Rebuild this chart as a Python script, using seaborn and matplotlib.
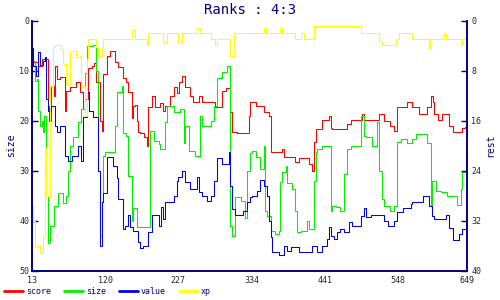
import numpy as np
import pandas as pd
import matplotlib
matplotlib.use("Agg")
import matplotlib.pyplot as plt
import seaborn as sns
from matplotlib.lines import Line2D

# ---- data (step breakpoints) ----
score_x = [13, 22, 27, 36, 38, 41, 45, 46, 49, 54, 61, 63, 68, 78, 83, 88, 90, 95, 100, 104,
           107, 112, 115, 117, 122, 127, 134, 139, 146, 150, 154, 159, 161, 163, 166, 168,
           171, 177, 181, 183, 188, 193, 200, 204, 208, 215, 220, 225, 228, 232, 237, 244,
           249, 257, 262, 281, 291, 296, 303, 306, 313, 330, 332, 340, 352, 359, 362, 379,
           381, 398, 403, 418, 423, 425, 428, 437, 447, 450, 452, 474, 479, 496, 498, 520,
           528, 537, 542, 547, 562, 569, 579, 591, 596, 599, 601, 606, 613, 623, 628, 642,
           646, 649]
score_y = [8.3, 9, 7.7, 17, 20, 13, 15, 9, 11.7, 11.3, 18, 14, 13.3, 12.3, 14.3, 17.7, 15.7,
           9.5, 9, 8.5, 12.3, 20, 22, 10.7, 7, 6, 8.3, 9.3, 11.5, 12.3, 14.3, 19.5, 17, 16.8,
           20, 22.3, 22.5, 23.3, 25, 17.3, 15, 17.3, 16.5, 18, 17, 15, 13.3, 14.5, 12.3, 11,
           13.3, 15, 16.3, 15, 16.2, 17.3, 14, 13.5, 18.3, 22.3, 22.5, 19, 16.3, 17, 18.3, 19,
           26.2, 25.7, 27.3, 28.3, 27.5, 28.7, 30, 24.3, 21.7, 19.8, 19, 21.5, 21.7, 20.7,
           19.8, 18.7, 19.8, 18.7, 20, 21, 22, 17.3, 16.2, 17.3, 18.7, 17.3, 15, 16.3, 18.7,
           19.8, 18.7, 21, 22.3, 21.5, 21.3, 21.3]

size_x = [13, 15, 17, 20, 22, 24, 27, 29, 31, 34, 36, 40, 45, 51, 58, 63, 66, 68, 73, 80, 85,
          90, 93, 102, 107, 109, 112, 115, 117, 119, 134, 137, 144, 146, 151, 154, 159, 161,
          166, 185, 191, 198, 200, 208, 210, 220, 230, 235, 237, 242, 252, 259, 262, 274, 279,
          283, 291, 298, 303, 305, 310, 318, 325, 328, 332, 335, 340, 347, 352, 354, 357, 362,
          369, 374, 376, 379, 384, 386, 393, 398, 401, 406, 415, 418, 425, 428, 430, 437, 450,
          452, 457, 464, 469, 474, 479, 494, 498, 501, 510, 518, 520, 525, 528, 537, 542, 547,
          552, 562, 569, 574, 591, 596, 598, 603, 611, 620, 635, 640, 642, 647, 649]
size_y = [5.5, 8, 12, 11.7, 18, 21, 20, 22.3, 19, 35, 44.5, 41, 37, 34.5, 36.5, 35, 30, 25,
          23.3, 20.3, 17.7, 10.5, 5, 4.9, 10, 30, 43, 36.3, 27, 26.3, 21, 14.3, 13, 22.5, 23,
          31, 40, 37.5, 41.3, 22, 24, 24.7, 25.7, 20.3, 17, 18.3, 17.7, 24.5, 21, 26, 27, 19,
          21, 20, 17, 11.5, 10.3, 9, 41, 43, 35.3, 36, 39.5, 30, 26.5, 26, 27.3, 29.7, 25, 38,
          39, 42, 42.7, 42, 32.3, 30.3, 29, 32.5, 33.7, 38, 42.3, 42, 40, 41.7, 32, 26.3, 25.7,
          25, 38, 37, 37.3, 38, 30.7, 25.7, 25, 19, 23, 23.3, 25, 20.3, 30, 35.7, 37, 38, 37,
          24.3, 23.7, 24.5, 23.7, 22.7, 24.5, 37, 32, 34, 34.3, 35, 36.8, 33.7, 30.3, 26, 26]

value_x = [13, 14, 19, 22, 24, 29, 32, 34, 36, 41, 46, 49, 54, 61, 66, 71, 80, 85, 88, 93, 97,
           102, 110, 112, 115, 117, 122, 132, 137, 139, 146, 149, 154, 156, 161, 168, 171, 176,
           183, 188, 198, 201, 205, 208, 220, 225, 227, 232, 237, 244, 254, 257, 262, 269, 274,
           279, 283, 291, 301, 303, 305, 310, 322, 327, 332, 335, 342, 347, 352, 357, 359, 362,
           364, 374, 381, 386, 391, 403, 423, 430, 437, 445, 447, 450, 454, 459, 464, 469, 476,
           481, 494, 498, 501, 508, 528, 533, 542, 547, 555, 567, 569, 584, 594, 598, 601, 618,
           623, 628, 638, 642, 647, 649]
value_y = [5.5, 9, 11, 6.3, 8.8, 8, 7.3, 15.7, 18, 17, 21, 22.3, 21, 27, 28, 27, 25, 28, 19.3,
           14.3, 18, 19.3, 30, 45, 36.3, 34.5, 27.3, 29, 31.5, 35.7, 41.7, 41, 38.9, 41.3, 42,
           44.3, 45.5, 45, 42.3, 38.9, 41, 37.3, 39.7, 36.2, 35, 32, 31.3, 30, 32.3, 33.7, 31.3,
           34.3, 35, 36, 35, 32, 27.5, 28.7, 26.3, 33, 37.7, 38.9, 38, 36.3, 35.3, 35, 34, 31.8,
           33, 35, 40, 43.3, 46.2, 46.8, 45, 46, 45.3, 46.2, 45, 46.2, 45, 43.7, 41.3, 43, 43.7,
           42.3, 41.7, 42.3, 40.3, 41.1, 39, 37.5, 39.3, 38.9, 40, 41.1, 40, 38.3, 37.5, 36.7,
           36.2, 35.1, 37, 39, 39.7, 38.9, 41.5, 43.8, 42.7, 41.7, 41.1, 41.1]

xp_x = [13, 15, 17, 24, 29, 32, 34, 39, 44, 46, 56, 58, 63, 68, 78, 83, 85, 90, 93, 95, 107,
        110, 115, 117, 159, 164, 181, 183, 205, 210, 227, 233, 254, 259, 274, 281, 284, 303,
        308, 352, 355, 376, 379, 398, 406, 411, 425, 494, 520, 525, 545, 550, 569, 594, 595,
        615, 618, 640, 642, 649]
xp_y = [37, 40, 45, 46.5, 43, 25.5, 35, 13, 5.3, 4.9, 5.7, 8.7, 12.7, 6, 7.3, 7, 13, 19, 7.7,
        3.7, 5.3, 7, 5.3, 3.7, 1.8, 3.7, 4.9, 2.5, 4.3, 2.5, 4.5, 2.5, 1.5, 2.5, 3.7, 4.9, 3.7,
        7, 2.5, 1.5, 2.5, 1.5, 2.5, 3.7, 2.5, 3.7, 1.1, 2.5, 4, 4.9, 3.7, 2.5, 3.7, 5.7, 3.7,
        2.5, 3.7, 4.9, 3.7, 3.7]

series_names = ["score", "size", "value", "xp"]
series_colors = ["#ff0000", "#00f000", "#0000f0", "#ffff00"]
x_ticks = [13, 120, 227, 334, 441, 548, 649]
left_ticks = [0, 10, 20, 30, 40, 50]
right_ticks = [0, 8, 16, 24, 32, 40]

navy = "#000080"
mono = "DejaVu Sans Mono"

frames = []
for name, xs, ys in [("score", score_x, score_y), ("size", size_x, size_y),
                     ("value", value_x, value_y), ("xp", xp_x, xp_y)]:
    frames.append(pd.DataFrame({"x": xs, "y": ys, "series": name}))
df = pd.concat(frames, ignore_index=True)

sns.set_style("white")
plt.rcParams["font.family"] = [mono, "DejaVu Sans"]

fig = plt.figure(figsize=(5, 3), dpi=100)
ax = fig.add_axes([0.064, 0.098, 0.870, 0.833])

sns.lineplot(data=df, x="x", y="y", hue="series", hue_order=series_names,
             palette=dict(zip(series_names, series_colors)), drawstyle="steps-post",
             linewidth=0.75, legend=False, ax=ax, estimator=None, sort=True)

ax.set_xlim(13, 649)
ax.set_ylim(50, 0)
ax.set_xticks(x_ticks)
ax.set_yticks(left_ticks)
ax.set_xlabel("")
ax.set_ylabel("size", color=navy, fontsize=7, labelpad=2)
for s in ["left", "bottom", "right"]:
    ax.spines[s].set_color(navy)
    ax.spines[s].set_linewidth(1.2)
ax.spines["top"].set_visible(False)
ax.tick_params(direction="in", length=4, width=1, color=navy, labelsize=6, pad=2)
ax.tick_params(axis="x", pad=4)

ax2 = ax.twinx()
ax2.set_ylim(40, 0)
ax2.set_yticks(right_ticks)
ax2.set_ylabel("rest", color=navy, fontsize=7, labelpad=3)
for s in ["left", "bottom", "right"]:
    ax2.spines[s].set_color(navy)
    ax2.spines[s].set_linewidth(1.2)
ax2.spines["top"].set_visible(False)
ax2.tick_params(direction="in", length=4, width=1, color=navy, labelsize=6, pad=3)

fig.text(0.5, 0.965, "Ranks : 4:3", ha="center", va="center", color=navy, fontsize=10)

handles = [Line2D([], [], color=c, lw=2) for c in series_colors]
leg = fig.legend(handles, series_names, loc="lower left", bbox_to_anchor=(0.0, 0.0),
                 ncol=4, frameon=False, fontsize=6, handlelength=2.2, handletextpad=0.4,
                 columnspacing=1.6, borderaxespad=0.1)
for t in leg.get_texts():
    t.set_color(navy)

fig.savefig("out.png", dpi=100)
